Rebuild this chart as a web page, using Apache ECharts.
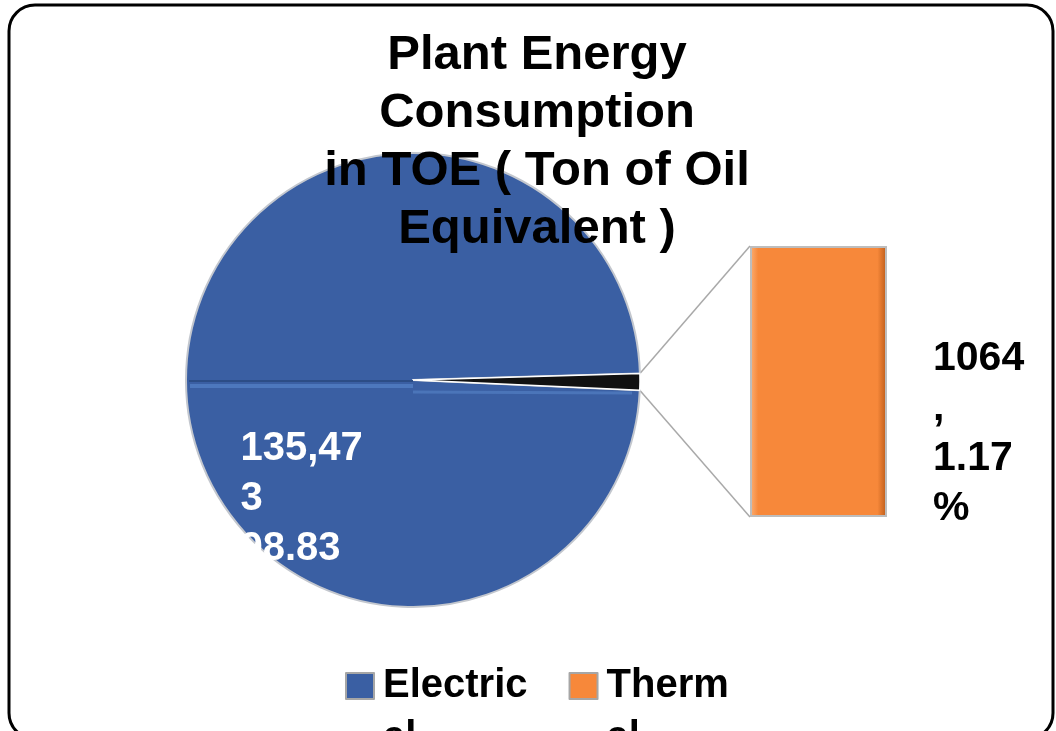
<!DOCTYPE html>
<html>
<head>
<meta charset="utf-8">
<script src="https://cdn.jsdelivr.net/npm/echarts/dist/echarts.min.js"></script>
<style>
  html, body { margin: 0; padding: 0; background: #ffffff; }
  #chart { width: 1056px; height: 731px; }
</style>
</head>
<body>
<div id="chart"></div>
<script>
// Energy sources and their consumption in TOE
const categories = ['Electrical', 'Thermal'];
const toeValues = [135473, 1064];
const sharePercents = [98.83, 1.17];

// Styling and layout
const sliceColors = ['#3A5FA3', '#111111'];
const legendColors = ['#3A5FA3', '#F7883A'];
const FONT = '"Liberation Sans", Arial, Helvetica, sans-serif';
const PIE_CX = 413, PIE_CY = 380, PIE_R = 227;
const START_ANGLE = -2.6;
const BAR_L = 750, BAR_T = 246, BAR_W = 137, BAR_H = 271;

const chart = echarts.init(document.getElementById('chart'), null, { renderer: 'canvas' });

// rim points where the small slice meets the pie edge
const rad = d => d * Math.PI / 180;
const aLow = START_ANGLE;
const aHigh = START_ANGLE + 360 * sharePercents[1] / 100;
const rimPt = a => [PIE_CX + PIE_R * Math.cos(rad(a)), PIE_CY - PIE_R * Math.sin(rad(a))];
const pHigh = rimPt(aHigh), pLow = rimPt(aLow);

function fmtThousands(v) { return v.toLocaleString('en-US'); }

// bevelled orange fill for the breakout bar
const barFill = new echarts.graphic.LinearGradient(0, 0, 1, 0, [
  { offset: 0, color: '#fbb077' },
  { offset: 0.06, color: '#F7883A' },
  { offset: 0.93, color: '#F7883A' },
  { offset: 1, color: '#b95a18' }
]);

const option = {
  animation: false,
  backgroundColor: '#ffffff',
  title: {
    text: 'Plant Energy\nConsumption\nin TOE ( Ton of Oil\nEquivalent )',
    left: 537,
    top: 26,
    padding: 0,
    textAlign: 'center',
    textStyle: {
      fontFamily: FONT, fontSize: 49, fontWeight: 'bold', color: '#000', lineHeight: 58
    }
  },
  legend: {
    left: 340,
    top: 603,
    icon: 'rect',
    itemWidth: 28,
    itemHeight: 26,
    itemGap: 41,
    formatter: n => '\n' + n.replace(/al$/, '\nal'),
    textStyle: {
      fontFamily: FONT, fontSize: 40, fontWeight: 'bold', color: '#000',
      lineHeight: 52, padding: [0, 0, 0, 4]
    },
    data: categories.map((c, i) => ({
      name: c,
      itemStyle: { color: legendColors[i], borderColor: '#a6a6a6', borderWidth: 2 }
    }))
  },
  grid: { left: BAR_L, top: BAR_T, width: BAR_W, height: BAR_H },
  xAxis: { type: 'category', data: [categories[1]], show: false },
  yAxis: { type: 'value', min: 0, max: toeValues[1], show: false },
  graphic: [
    {
      type: 'rect', z: -10, silent: true,
      shape: { x: 9, y: 5, width: 1044, height: 734, r: 26 },
      style: { fill: 'none', stroke: '#000', lineWidth: 3 }
    },
    {
      type: 'line', z: 1, silent: true,
      shape: { x1: pHigh[0], y1: pHigh[1], x2: BAR_L, y2: BAR_T },
      style: { stroke: '#a9a9a9', lineWidth: 1.5 }
    },
    {
      type: 'line', z: 1, silent: true,
      shape: { x1: pLow[0], y1: pLow[1], x2: BAR_L, y2: BAR_T + BAR_H },
      style: { stroke: '#a9a9a9', lineWidth: 1.5 }
    },
    // bevel seam across the pie
    {
      type: 'line', z: 10, silent: true,
      shape: { x1: PIE_CX - PIE_R + 3, y1: PIE_CY + 1, x2: PIE_CX, y2: PIE_CY + 1 },
      style: { stroke: '#2c4d86', lineWidth: 2 }
    },
    {
      type: 'line', z: 10, silent: true,
      shape: { x1: PIE_CX - PIE_R + 4, y1: PIE_CY + 6, x2: PIE_CX, y2: PIE_CY + 6 },
      style: { stroke: '#5683c8', lineWidth: 4, opacity: 0.7 }
    },
    {
      type: 'line', z: 10, silent: true,
      shape: { x1: PIE_CX, y1: PIE_CY + 12, x2: PIE_CX + PIE_R - 8, y2: PIE_CY + 13 },
      style: { stroke: '#5683c8', lineWidth: 3, opacity: 0.6 }
    }
  ],
  series: [
    {
      type: 'pie',
      name: 'TOE',
      center: [PIE_CX, PIE_CY],
      radius: PIE_R,
      startAngle: START_ANGLE,
      clockwise: true,
      avoidLabelOverlap: false,
      data: categories.map((c, i) => ({
        name: c,
        value: sharePercents[i],
        itemStyle: i === 0
          ? { color: sliceColors[0], borderColor: '#c3c7ce', borderWidth: 2 }
          : { color: sliceColors[1], borderColor: '#ffffff', borderWidth: 1.5 },
        label: { show: i === 0 }
      })),
      label: {
        position: 'inside',
        formatter: p => {
          const s = fmtThousands(toeValues[p.dataIndex]);
          return s.slice(0, 6) + '\n' + s.slice(6) + '\n' + sharePercents[p.dataIndex].toFixed(2) + '\n%';
        },
        color: '#ffffff',
        fontFamily: FONT, fontSize: 40, fontWeight: 'bold', lineHeight: 50, align: 'left'
      },
      labelLine: { show: false },
      labelLayout: p => p.dataIndex === 0
        ? { x: PIE_CX - 0.76 * PIE_R, y: PIE_CY + 0.195 * PIE_R, align: 'left', verticalAlign: 'top' }
        : {},
      emphasis: { disabled: true }
    },
    {
      type: 'bar',
      name: 'Other',
      data: [toeValues[1]],
      barWidth: '100%',
      itemStyle: { color: barFill, borderColor: '#bdbdbd', borderWidth: 2 },
      label: {
        show: true,
        position: 'right',
        distance: 46,
        offset: [0, 52],
        align: 'left',
        formatter: () => toeValues[1] + '\n,\n' + sharePercents[1].toFixed(2) + '\n%',
        color: '#000',
        fontFamily: FONT, fontSize: 41, fontWeight: 'bold', lineHeight: 50
      },
      emphasis: { disabled: true }
    }
  ]
};

chart.setOption(option);
</script>
</body>
</html>
